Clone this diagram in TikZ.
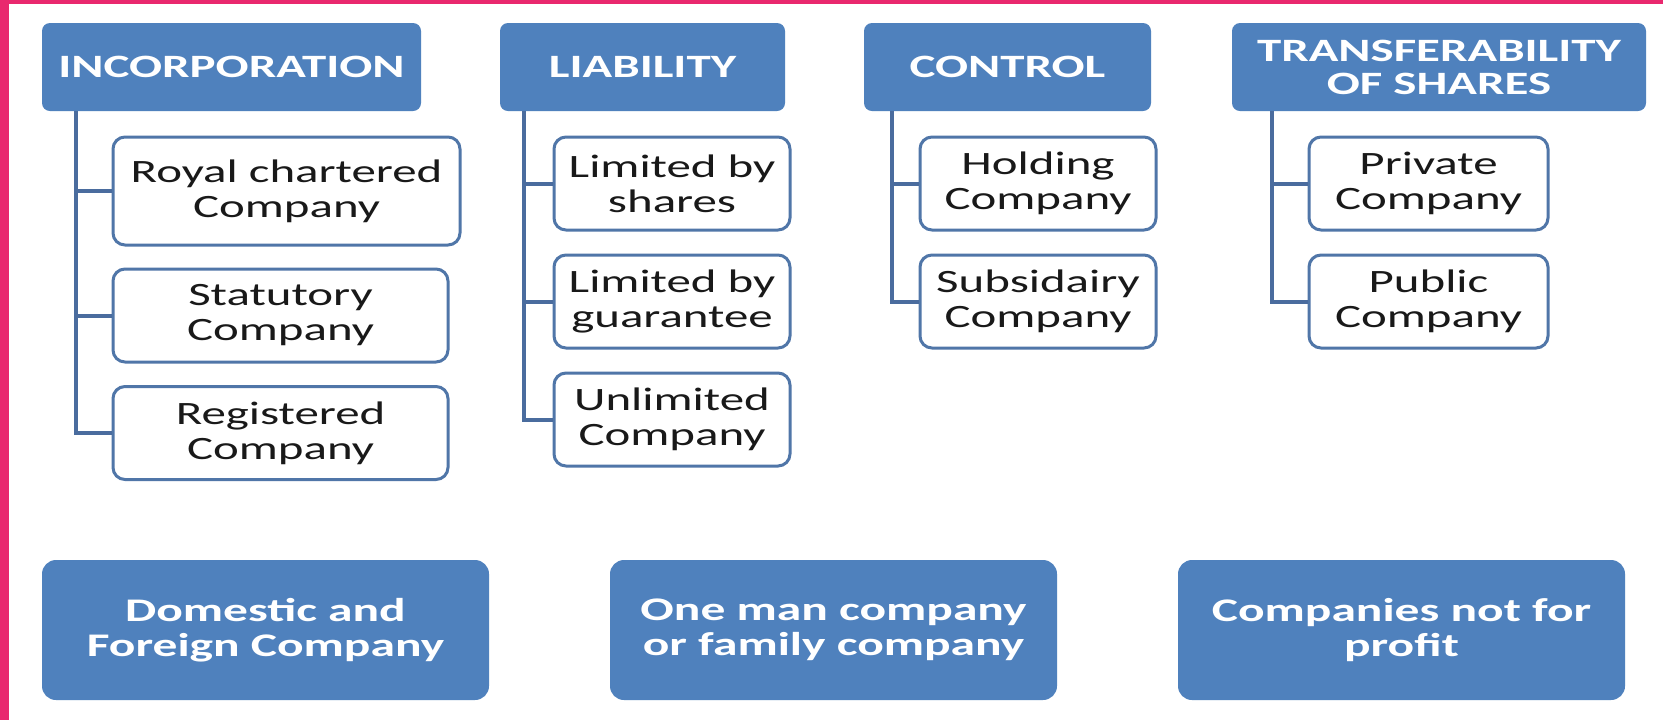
\documentclass[tikz,border=0pt]{standalone}
\usepackage{fontspec}
\setmainfont{Carlito}[FakeStretch=1.5]
\usepackage{xcolor}
\definecolor{Pink}{RGB}{233,40,110}
\definecolor{Head}{RGB}{79,129,189}
\definecolor{Edge}{RGB}{80,118,168}
\definecolor{Link}{RGB}{74,108,158}
\definecolor{Ink}{RGB}{25,25,25}
\definecolor{White}{RGB}{255,255,255}
\usepackage{tikz}

\tikzset{
	head/.style={fill=Head, draw=none, rounded corners=4pt, text=White, align=center, inner sep=0pt, minimum height=44pt, font=\bfseries\fontsize{16.3pt}{16.5pt}\selectfont},
	item/.style={fill=White, draw=Edge, line width=1.5pt, rounded corners=6pt, text=Ink, align=center, inner sep=0pt, minimum height=46.5pt, font=\fontsize{16.3pt}{17.5pt}\selectfont},
	kind/.style={fill=Head, draw=none, rounded corners=7pt, text=White, align=center, inner sep=0pt, minimum width=223.5pt, minimum height=70pt, font=\bfseries\fontsize{16.5pt}{17.5pt}\selectfont},
	link/.style={draw=Link, line width=2pt}
}

\begin{document}
\begin{tikzpicture}[x=0.5pt, y=-0.5pt]
		
		% Frame
		\useasboundingbox (0,0) rectangle (1663,720);
		\fill[White] (0,0) rectangle (1663,720);
		\fill[Pink] (0,0) rectangle (9,720);
		\fill[Pink] (0,0) rectangle (1663,4);
		
		% Headers
		\node[head, minimum width=189.5pt] (inc) at (231.5,67) {INCORPORATION};
		\node[head, minimum width=142.5pt] (lia) at (642.5,67) {LIABILITY};
		\node[head, minimum width=143.5pt] (con) at (1007.5,67) {CONTROL};
		\node[head, minimum width=207pt] (tra) at (1439,67) {TRANSFERABILITY\\OF SHARES};
		
		% Incorporation
		\node[item, minimum width=173.5pt, minimum height=54pt] (roy) at (286.5,191) {Royal chartered\\Company};
		\node[item, minimum width=167.5pt] (sta) at (280.5,315.5) {Statutory\\Company};
		\node[item, minimum width=167.5pt] (reg) at (280.5,433) {Registered\\Company};
		
		% Liability
		\node[item, minimum width=118pt] (sha) at (672,183.5) {Limited by\\shares};
		\node[item, minimum width=118pt] (gua) at (672,301.5) {Limited by\\guarantee};
		\node[item, minimum width=118pt] (unl) at (672,419.5) {Unlimited\\Company};
		
		% Control
		\node[item, minimum width=118pt] (hol) at (1038,183.5) {Holding\\Company};
		\node[item, minimum width=118pt] (sub) at (1038,301.5) {Subsidairy\\Company};
		
		% Transferability
		\node[item, minimum width=119.5pt] (pri) at (1428.5,183.5) {Private\\Company};
		\node[item, minimum width=119.5pt] (pub) at (1428.5,301.5) {Public\\Company};
		
		% Links
		\draw[link] ([xshift=17pt]inc.south west) |- (roy.west);
		\draw[link] ([xshift=17pt]inc.south west) |- (sta.west);
		\draw[link] ([xshift=17pt]inc.south west) |- (reg.west);
		\draw[link] ([xshift=12pt]lia.south west) |- (sha.west);
		\draw[link] ([xshift=12pt]lia.south west) |- (gua.west);
		\draw[link] ([xshift=12pt]lia.south west) |- (unl.west);
		\draw[link] ([xshift=14pt]con.south west) |- (hol.west);
		\draw[link] ([xshift=14pt]con.south west) |- (sub.west);
		\draw[link] ([xshift=20pt]tra.south west) |- (pri.west);
		\draw[link] ([xshift=20pt]tra.south west) |- (pub.west);
		
		% Other kinds
		\node[kind] (dom) at (265.5,630) {Domestic and\\Foreign Company};
		\node[kind] (one) at (833.5,630) {One man company\\or family company};
		\node[kind] (npr) at (1401.5,630) {Companies not for\\profit};
		
	\end{tikzpicture}
\end{document}
